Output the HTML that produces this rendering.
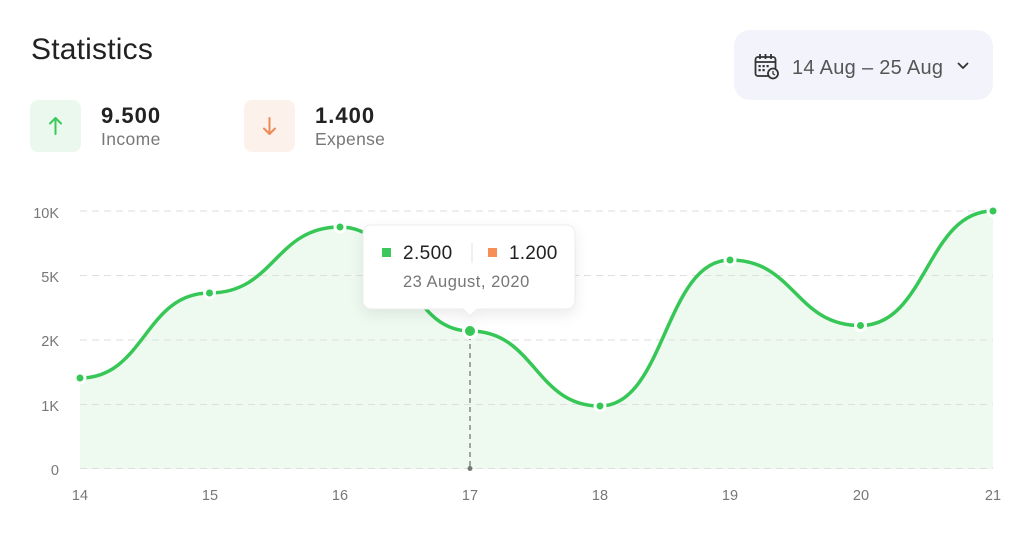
<!DOCTYPE html>
<html><head><meta charset="utf-8">
<style>
html,body{margin:0;padding:0;background:#fff;}
body{width:1024px;height:543px;overflow:hidden;font-family:"Liberation Sans",sans-serif;}
svg text{font-family:"Liberation Sans",sans-serif;}
</style></head>
<body>
<svg width="1024" height="543" viewBox="0 0 1024 543" xmlns="http://www.w3.org/2000/svg">
<defs>
  <filter id="sh" x="-20%" y="-30%" width="140%" height="170%">
    <feDropShadow dx="0" dy="5" stdDeviation="7" flood-color="#000" flood-opacity="0.08"/>
  </filter>
</defs>
<rect width="1024" height="543" fill="#fff"/>

<!-- Title -->
<text x="31" y="59" font-size="30" fill="#222" letter-spacing="0.2">Statistics</text>

<!-- Income -->
<rect x="30" y="100" width="51" height="52" rx="8" fill="#eaf8ed"/>
<g stroke="#3cc85a" stroke-width="2" fill="none" stroke-linecap="round" stroke-linejoin="round">
  <line x1="55.5" y1="118" x2="55.5" y2="134"/>
  <polyline points="50,123.5 55.5,118 61,123.5"/>
</g>
<text x="101" y="123" font-size="22" font-weight="bold" fill="#222" letter-spacing="1">9.500</text>
<text x="101" y="145" font-size="17.5" fill="#777" letter-spacing="0.4">Income</text>

<!-- Expense -->
<rect x="244" y="100" width="51" height="52" rx="8" fill="#fdf1ec"/>
<g stroke="#ef8a54" stroke-width="2" fill="none" stroke-linecap="round" stroke-linejoin="round">
  <line x1="269.5" y1="118" x2="269.5" y2="134"/>
  <polyline points="264,128.5 269.5,134 275,128.5"/>
</g>
<text x="315" y="123" font-size="22" font-weight="bold" fill="#222" letter-spacing="1">1.400</text>
<text x="315" y="145" font-size="17.5" fill="#777" letter-spacing="0.3">Expense</text>

<!-- Date picker -->
<rect x="734" y="30" width="259" height="70" rx="16" fill="#f3f4fb"/>
<g fill="none" stroke="#333" stroke-width="1.8">
  <rect x="755.5" y="57" width="20" height="19" rx="2.5"/>
  <line x1="755.5" y1="62" x2="775.5" y2="62"/>
  <line x1="760" y1="54" x2="760" y2="59"/>
  <line x1="765.5" y1="54" x2="765.5" y2="59"/>
  <line x1="771" y1="54" x2="771" y2="59"/>
</g>
<g fill="#333">
  <rect x="758.5" y="65" width="2.2" height="2.2"/><rect x="762.5" y="65" width="2.2" height="2.2"/><rect x="766.5" y="65" width="2.2" height="2.2"/>
  <rect x="758.5" y="69" width="2.2" height="2.2"/><rect x="762.5" y="69" width="2.2" height="2.2"/>
</g>
<circle cx="773" cy="73.5" r="5" fill="#f3f4fb" stroke="#333" stroke-width="1.8"/>
<polyline points="773,71 773,73.8 775,75" fill="none" stroke="#333" stroke-width="1.3"/>
<text x="792" y="74" font-size="20" fill="#555" letter-spacing="0.3">14 Aug – 25 Aug</text>
<polyline points="958.5,63.5 963,68 967.5,63.5" fill="none" stroke="#333" stroke-width="1.8" stroke-linecap="round" stroke-linejoin="round"/>

<!-- Area -->
<path d="M80,378 C144.75,378 144.75,293 209.5,293 C274.75,293 274.75,227 340,227 C405,227 405,331 470,331 C535,331 535,406 600,406 C665,406 665,260 730,260 C795,260 795,325.5 860.5,325.5 C926.75,325.5 926.75,211 993,211 L993,469 L80,469 Z" fill="#eefaf0"/>

<!-- Grid -->
<g stroke="#dedede" stroke-width="1" stroke-dasharray="7 5">
  <line x1="80" y1="211" x2="993" y2="211"/>
  <line x1="80" y1="275.5" x2="993" y2="275.5"/>
  <line x1="80" y1="340" x2="993" y2="340"/>
  <line x1="80" y1="404.5" x2="993" y2="404.5"/>
  <line x1="80" y1="468.5" x2="993" y2="468.5"/>
</g>

<!-- Y labels -->
<g font-size="14.5" fill="#777" text-anchor="end">
  <text x="59" y="218">10K</text>
  <text x="59" y="282">5K</text>
  <text x="59" y="346">2K</text>
  <text x="59" y="411">1K</text>
  <text x="59" y="475">0</text>
</g>
<!-- X labels -->
<g font-size="14.5" fill="#777" text-anchor="middle">
  <text x="80" y="500">14</text>
  <text x="210" y="500">15</text>
  <text x="340" y="500">16</text>
  <text x="470" y="500">17</text>
  <text x="600" y="500">18</text>
  <text x="730" y="500">19</text>
  <text x="861" y="500">20</text>
  <text x="993" y="500">21</text>
</g>

<!-- Vertical dashed indicator -->
<line x1="470" y1="335" x2="470" y2="468" stroke="#888" stroke-width="1.5" stroke-dasharray="5 4"/>
<circle cx="470" cy="468.5" r="2.5" fill="#777"/>

<!-- Line -->
<path d="M80,378 C144.75,378 144.75,293 209.5,293 C274.75,293 274.75,227 340,227 C405,227 405,331 470,331 C535,331 535,406 600,406 C665,406 665,260 730,260 C795,260 795,325.5 860.5,325.5 C926.75,325.5 926.75,211 993,211" fill="none" stroke="#36c757" stroke-width="3.5" stroke-linecap="round"/>

<!-- Markers -->
<g fill="#36c757" stroke="#fff" stroke-width="3">
  <circle cx="80" cy="378" r="5"/>
  <circle cx="209.5" cy="293" r="5"/>
  <circle cx="340" cy="227" r="5"/>
  <circle cx="600" cy="406" r="5"/>
  <circle cx="730" cy="260" r="5"/>
  <circle cx="860.5" cy="325.5" r="5"/>
  <circle cx="993" cy="211" r="5"/>
  <circle cx="470" cy="331" r="6.5"/>
</g>

<!-- Tooltip -->
<g filter="url(#sh)">
  <path d="M371,225 H567 A8,8 0 0 1 575,233 V301 A8,8 0 0 1 567,309 H477 L470,316 L463,309 H371 A8,8 0 0 1 363,301 V233 A8,8 0 0 1 371,225 Z" fill="#fff" stroke="#ececec" stroke-width="1"/>
</g>
<rect x="382" y="248" width="9" height="9" fill="#3cc85a"/>
<text x="403" y="259" font-size="19" fill="#222" letter-spacing="0.4">2.500</text>
<line x1="472" y1="243" x2="472" y2="263" stroke="#e6e6e6" stroke-width="1.2"/>
<rect x="488" y="248" width="9" height="9" fill="#f58f55"/>
<text x="509" y="259" font-size="19" fill="#222" letter-spacing="0.2">1.200</text>
<text x="403" y="287" font-size="16.5" fill="#777" letter-spacing="0.5">23 August, 2020</text>
</svg>
</body></html>
